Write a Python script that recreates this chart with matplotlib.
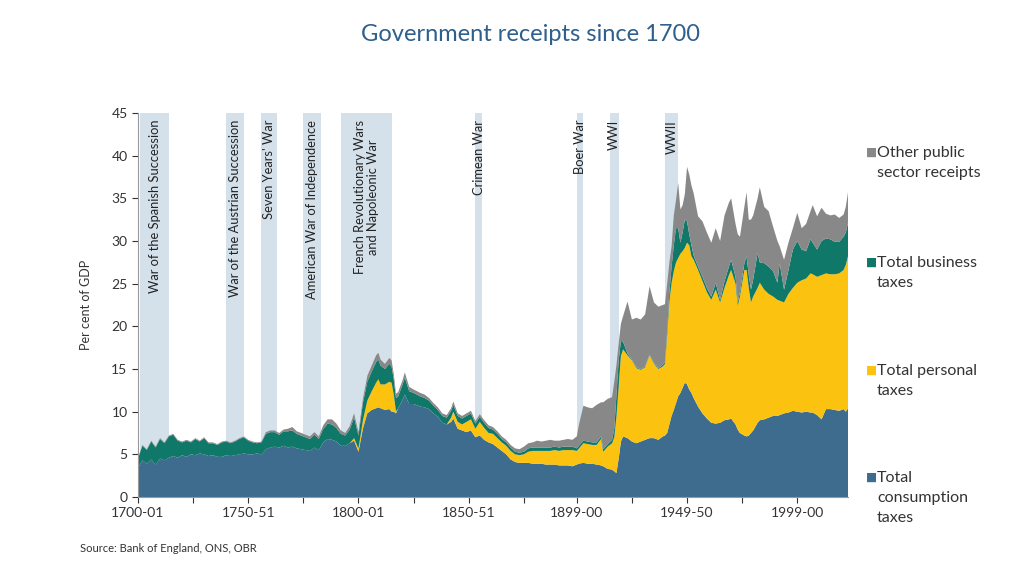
import matplotlib
matplotlib.use("Agg")
import matplotlib.pyplot as plt

# ---- data (per cent of GDP) ----
years = [
    1700, 1702, 1704, 1706, 1708, 1710, 1712, 1714, 1716, 1718, 1720, 1722, 1724, 1726, 1728, 1730, 1732,
    1734, 1736, 1738, 1740, 1742, 1744, 1746, 1748, 1750, 1752, 1754, 1756, 1758, 1760, 1762, 1764,
    1766, 1768, 1770, 1772, 1774, 1776, 1778, 1780, 1782, 1784, 1786, 1788, 1790, 1792, 1794, 1796, 1798,
    1800, 1802, 1804, 1806, 1808, 1809, 1810, 1812, 1814, 1815, 1816, 1817, 1818, 1820, 1821, 1823, 1825,
    1828, 1830,
    1832, 1834, 1836, 1838, 1840, 1842, 1843, 1845, 1847, 1849, 1851, 1853, 1855, 1857, 1859, 1861, 1863,
    1865, 1867, 1869, 1871, 1873, 1875, 1877, 1879, 1881, 1883, 1885, 1887, 1889, 1891, 1893, 1895, 1897,
    1899,
    1900, 1902, 1904, 1906, 1908, 1910, 1911, 1913, 1915, 1916, 1917, 1918, 1919, 1920, 1922, 1924, 1926,
    1928, 1930, 1932, 1934, 1936, 1938,
    1939, 1940, 1941, 1942, 1943, 1944, 1945, 1946, 1947, 1948, 1949, 1950, 1951, 1952, 1954, 1956, 1958,
    1960,
    1962, 1964, 1966, 1968, 1969, 1971, 1972, 1973, 1975, 1976, 1977, 1978, 1979, 1981, 1982,
    1984, 1986, 1988, 1990, 1991, 1993, 1995, 1997, 1999, 2001, 2003, 2005, 2006, 2008, 2010, 2012, 2014,
    2016, 2018, 2020, 2021, 2022,
]

consumption = [
    3.4, 4.3, 3.9, 4.4, 3.8, 4.5, 4.3, 4.6, 4.8, 4.6, 4.9, 4.7, 5.0, 4.9, 5.1, 5.0, 4.8,
    4.9, 4.7, 4.7, 4.9, 4.8, 4.9, 5.0, 5.1, 5.0, 5.0, 5.1, 5.0, 5.6, 5.8, 5.9, 5.8,
    6.0, 5.8, 5.9, 5.7, 5.6, 5.5, 5.4, 5.8, 5.5, 6.4, 6.8, 6.7, 6.5, 6.0, 6.0, 6.3, 6.6,
    5.3, 8.0, 9.8, 10.2, 10.4, 10.5, 10.4, 10.2, 10.3, 10.0, 10.0, 9.8, 10.4, 11.4, 12.0, 10.9, 10.9,
    10.6, 10.5,
    10.3, 9.8, 9.4, 8.7, 8.5, 8.8, 9.2, 8.0, 7.8, 7.6, 7.8, 7.0, 7.2, 6.7, 6.4, 6.2, 5.8,
    5.4, 5.0, 4.4, 4.1, 4.0, 4.0, 4.0, 3.9, 3.9, 3.9, 3.8, 3.8, 3.8, 3.7, 3.7, 3.7, 3.6,
    3.8,
    3.9, 4.0, 3.9, 3.9, 3.8, 3.7, 3.6, 3.3, 3.2, 3.0, 2.8, 4.5, 6.5, 7.1, 6.9, 6.5, 6.3,
    6.5, 6.7, 6.9, 6.9, 6.7, 7.1,
    7.2, 7.5, 8.5, 9.5, 10.2, 11.0, 11.8, 12.2, 12.8, 13.4, 13.2, 12.6, 12.2, 11.6, 10.6, 9.8, 9.2,
    8.7,
    8.6, 8.7, 9.0, 9.1, 9.2, 8.5, 7.9, 7.5, 7.2, 7.1, 7.2, 7.5, 7.8, 8.7, 9.0,
    9.1, 9.3, 9.5, 9.5, 9.6, 9.8, 9.9, 10.1, 10.0, 9.9, 10.0, 9.9, 9.9, 9.6, 9.1, 10.3, 10.3,
    10.2, 10.1, 10.3, 10.0, 10.4,
]

personal = [
    0, 0, 0, 0, 0, 0, 0, 0, 0, 0, 0, 0, 0, 0, 0, 0, 0,
    0, 0, 0, 0, 0, 0, 0, 0, 0, 0, 0, 0, 0, 0, 0, 0,
    0, 0, 0, 0, 0, 0, 0, 0, 0, 0, 0, 0, 0, 0, 0, 0, 0.3,
    0.4, 1.0, 1.5, 2.2, 3.0, 3.3, 2.8, 3.0, 3.2, 3.4, 2.0, 0.2, 0, 0, 0, 0, 0,
    0, 0,
    0, 0, 0, 0, 0, 0.5, 0.8, 0.8, 0.7, 1.2, 1.3, 1.0, 1.6, 1.4, 1.1, 1.2, 1.1,
    1.0, 1.0, 1.0, 0.9, 0.9, 1.0, 1.3, 1.5, 1.5, 1.5, 1.6, 1.6, 1.7, 1.7, 1.8, 1.8, 1.9,
    1.6,
    1.8, 2.3, 2.3, 2.2, 2.3, 3.1, 1.7, 2.6, 3.1, 4.0, 6.7, 8.5, 10.0, 10.2, 9.7, 9.5, 8.8,
    8.4, 8.5, 9.7, 8.7, 8.3, 8.2,
    8.4, 11.5, 14.5, 15.6, 16.3, 16.5, 16.2, 16.3, 16.0, 15.8, 16.6, 16.9, 16.0, 16.2, 16.0, 15.5, 14.8,
    14.4,
    15.7, 14.1, 15.5, 16.9, 17.4, 16.5, 14.5, 16.0, 19.4, 19.5, 17.3, 15.3, 15.7, 15.8, 16.1,
    15.2, 14.5, 14.0, 13.6, 13.4, 13.0, 13.9, 14.4, 15.1, 15.5, 15.6, 16.3, 16.2, 16.2, 16.9, 15.9, 15.8,
    15.9, 16.1, 16.3, 17.2, 17.8,
]

business = [
    1.1, 1.7, 1.6, 2.1, 2.0, 2.3, 2.0, 2.5, 2.5, 2.0, 1.5, 1.9, 1.4, 1.9, 1.4, 1.9, 1.5,
    1.4, 1.4, 1.7, 1.6, 1.5, 1.6, 1.8, 1.9, 1.6, 1.4, 1.2, 1.4, 1.8, 1.8, 1.7, 1.5,
    1.7, 1.9, 1.9, 1.7, 1.6, 1.5, 1.4, 1.5, 1.3, 1.6, 1.8, 1.8, 1.6, 1.4, 1.2, 1.6, 2.4,
    1.5, 2.0, 2.2, 2.3, 2.4, 2.3, 2.2, 1.8, 2.1, 1.9, 1.8, 1.6, 1.4, 1.8, 2.0, 1.5, 1.3,
    1.2, 1.1,
    1.0, 0.9, 0.8, 0.8, 0.8, 0.8, 0.8, 0.7, 0.7, 0.7, 0.7, 0.6, 0.6, 0.6, 0.6, 0.5, 0.5,
    0.4, 0.4, 0.4, 0.3, 0.3, 0.3, 0.4, 0.4, 0.4, 0.4, 0.4, 0.4, 0.4, 0.4, 0.4, 0.4, 0.4,
    0.3,
    0.3, 0.3, 0.3, 0.3, 0.3, 0.3, 0.3, 0.3, 0.4, 1.0, 2.5, 3.0, 1.8, 0.9, 0.2, 0.1, 0.1,
    0.1, 0.1, 0.1, 0.1, 0.1, 0.2,
    0.2, 0.5, 1.0, 1.9, 3.0, 4.0, 3.5, 1.3, 2.2, 3.3, 2.5, 1.3, 1.3, 0.5, 0.4, 0.5, 0.5,
    0.4,
    0.8, 0.3, 0.8, 1.0, 1.2, 0.8, 0.4, 0.5, 0.8, 1.6, 1.5, 1.5, 2.0, 4.1, 2.4,
    3.1, 3.2, 3.0, 2.0, 4.4, 1.5, 2.8, 4.5, 4.9, 3.6, 3.2, 4.0, 3.7, 3.2, 4.0, 4.1, 4.1,
    3.8, 3.7, 3.9, 3.8, 3.9,
]

other = [
    0.1, 0.1, 0.1, 0.1, 0.1, 0.1, 0.1, 0.1, 0.1, 0.1, 0.1, 0.1, 0.1, 0.1, 0.1, 0.1, 0.1,
    0.1, 0.1, 0.1, 0.1, 0.1, 0.1, 0.1, 0.1, 0.1, 0.1, 0.1, 0.1, 0.2, 0.2, 0.2, 0.2,
    0.2, 0.3, 0.4, 0.3, 0.3, 0.3, 0.3, 0.3, 0.3, 0.4, 0.5, 0.6, 0.5, 0.4, 0.3, 0.4, 0.5,
    0.4, 0.5, 0.7, 0.7, 0.8, 0.8, 0.7, 0.6, 0.7, 0.7, 0.6, 0.5, 0.5, 0.5, 0.6, 0.5, 0.4,
    0.4, 0.4,
    0.3, 0.3, 0.3, 0.3, 0.3, 0.3, 0.4, 0.3, 0.3, 0.3, 0.3, 0.3, 0.3, 0.3, 0.3, 0.3, 0.3,
    0.3, 0.3, 0.3, 0.4, 0.4, 0.6, 0.6, 0.6, 0.8, 0.7, 0.8, 0.9, 0.7, 0.8, 0.8, 0.9, 0.8,
    1.4,
    2.5, 4.1, 4.0, 4.0, 4.4, 4.0, 5.5, 5.3, 5.0, 5.5, 3.5, 2.0, 2.0, 3.0, 6.1, 4.7, 5.8,
    5.8, 6.1, 8.0, 7.1, 7.2, 7.0,
    6.8, 5.5, 3.5, 2.4, 3.5, 3.3, 5.3, 3.9, 3.2, 3.0, 6.4, 7.0, 7.0, 7.3, 5.9, 6.5, 6.5,
    6.3,
    6.4, 6.9, 7.7, 7.5, 7.2, 6.2, 8.0, 6.5, 6.6, 7.5, 6.5, 8.2, 7.5, 6.4, 8.8,
    6.6, 6.5, 5.2, 4.9, 2.0, 3.5, 3.2, 2.5, 3.3, 2.5, 3.2, 3.3, 4.4, 3.9, 3.9, 2.9, 2.8,
    3.2, 2.8, 2.6, 3.0, 3.6,
]

series_labels = ["Total\nconsumption\ntaxes", "Total personal\ntaxes",
                 "Total business\ntaxes", "Other public\nsector receipts"]
colors = ["#3e6c8f", "#fbc30f", "#0f7868", "#888888"]

wars = [
    ("War of the Spanish Succession", 1701, 1714),
    ("War of the Austrian Succession", 1740, 1748),
    ("Seven Years' War", 1756, 1763),
    ("American War of Independence", 1775, 1783),
    ("French Revolutionary Wars\nand Napoleonic War", 1792, 1815),
    ("Crimean War", 1853, 1856),
    ("Boer War", 1899, 1902),
    ("WWI", 1914, 1918),
    ("WWII", 1939, 1945),
]

major_ticks = [1700, 1750, 1800, 1850, 1899, 1949, 1999]
major_labels = ["1700-01", "1750-51", "1800-01", "1850-51", "1899-00", "1949-50", "1999-00"]
minor_ticks = [1725, 1775, 1825, 1875, 1924, 1974]

assert len(years) == len(consumption) == len(personal) == len(business) == len(other)

plt.rcParams["font.family"] = ["Lato", "DejaVu Sans"]
text_col = "#333333"

fig = plt.figure(figsize=(10.24, 5.76), dpi=100)
ax = fig.add_axes([138 / 1024, 79 / 576, 710 / 1024, 384 / 576])

# war periods as shaded bands with rotated labels
for name, start, end in wars:
    ax.axvspan(start, end, color="#d5e1ea", lw=0, zorder=0)
    ax.text((start + end) / 2, 44.2, name, rotation=90, ha="center", va="top",
            multialignment="center", fontsize=9.3, color="#222222", zorder=1,
            linespacing=1.1)

ax.stackplot(years, consumption, personal, business, other, colors=colors,
             linewidth=0, zorder=2)

ax.set_xlim(1700, 2022)
ax.set_ylim(0, 45)
ax.set_yticks(range(0, 46, 5))
ax.set_xticks(major_ticks)
ax.set_xticklabels(major_labels)
ax.set_xticks(minor_ticks, minor=True)
ax.tick_params(axis="both", labelsize=10, colors=text_col, length=4, width=0.8)
ax.tick_params(axis="x", which="minor", length=4, width=0.8, color=text_col)
for s in ["top", "right"]:
    ax.spines[s].set_visible(False)
for s in ["left", "bottom"]:
    ax.spines[s].set_color("#999999")
ax.set_ylabel("Per cent of GDP", fontsize=9, color=text_col, labelpad=14)

fig.text(0.518, 0.94, "Government receipts since 1700", ha="center", va="center",
         fontsize=17, color="#2f5f8c")
fig.text(80 / 1024, 1 - 548 / 576, "Source: Bank of England, ONS, OBR",
         ha="left", va="center", fontsize=8, color=text_col)

# legend on the right, top to bottom
legend_y = [152, 262, 370, 477]
order = [3, 2, 1, 0]
for y, i in zip(legend_y, order):
    fig.text(866 / 1024, 1 - y / 576, "\u25A0", color=colors[i], fontsize=8.5,
             ha="left", va="center", family="DejaVu Sans")
    fig.text(877 / 1024, 1 - (y - 6) / 576, series_labels[i], color=text_col,
             fontsize=11.5, ha="left", va="top", linespacing=1.55)

fig.savefig("out.png", dpi=100)
